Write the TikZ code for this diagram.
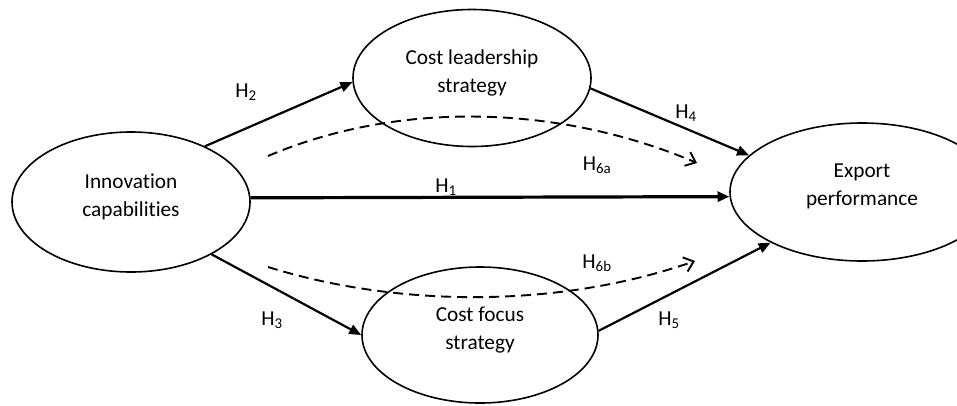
\documentclass[tikz,border=0pt]{standalone}
\usepackage{fontspec}
\setmainfont[Ligatures=NoCommon]{Carlito}
\usetikzlibrary{shapes.geometric,arrows.meta}
\begin{document}
\begin{tikzpicture}[x=1pt,y=-1pt,
  construct/.style={ellipse,draw,line width=1.6pt,inner sep=0pt,align=center,
    text depth=14pt,font=\fontsize{21.3}{28}\selectfont},
  hlabel/.style={inner sep=0pt,font=\fontsize{21.3}{24}\selectfont},
  hypo/.style={line width=2.2pt,-{Triangle[length=12pt,width=10pt]}},
  direct/.style={hypo,line width=3.2pt},
  mediation/.style={line width=1.9pt,dash pattern=on 10pt off 6pt,
    -{Straight Barb[length=9pt,width=15pt,line width=1.9pt]}}]
\useasboundingbox (0,0) rectangle (957,405);
\clip (0,0) rectangle (957,405);

% constructs
\node[construct,minimum width=238pt,minimum height=140pt] (inn) at (131,202) {Innovation\\capabilities};
\node[construct,minimum width=238pt,minimum height=137pt] (cl) at (472,78) {Cost leadership\\strategy};
\node[construct,minimum width=236pt,minimum height=136pt] (cf) at (480,335) {Cost focus\\strategy};
\node[construct,minimum width=264pt,minimum height=138pt] (exp) at (862,192) {Export\\performance};

% direct hypotheses
\draw[hypo] (inn.37) -- (cl.182);
\draw[hypo] (cl.-5) -- (exp.162);
\draw[direct] (inn.2) -- (exp.182.6);
\draw[hypo] (inn.-33) -- (cf.180);
\draw[hypo] (cf.2.4) -- (exp.209.4);

% mediation paths
\coordinate (m6a-s) at (268,156);
\coordinate (m6a-e) at (697,163);
\coordinate (m6b-s) at (268,267);
\coordinate (m6b-e) at (695,261);
\draw[mediation] (m6a-s) .. controls (400,100) and (560,105) .. (m6a-e);
\draw[mediation] (m6b-s) .. controls (400,308) and (560,308) .. (m6b-e);

% hypothesis labels
\node[hlabel] (h1) at (446,187) {H\textsubscript{1}};
\node[hlabel] (h2) at (246,92) {H\textsubscript{2}};
\node[hlabel] (h3) at (272,320) {H\textsubscript{3}};
\node[hlabel] (h4) at (686,113) {H\textsubscript{4}};
\node[hlabel] (h5) at (669,320) {H\textsubscript{5}};
\node[hlabel] (h6a) at (597,165) {H\textsubscript{6a}};
\node[hlabel] (h6b) at (597,263) {H\textsubscript{6b}};
\end{tikzpicture}
\end{document}
